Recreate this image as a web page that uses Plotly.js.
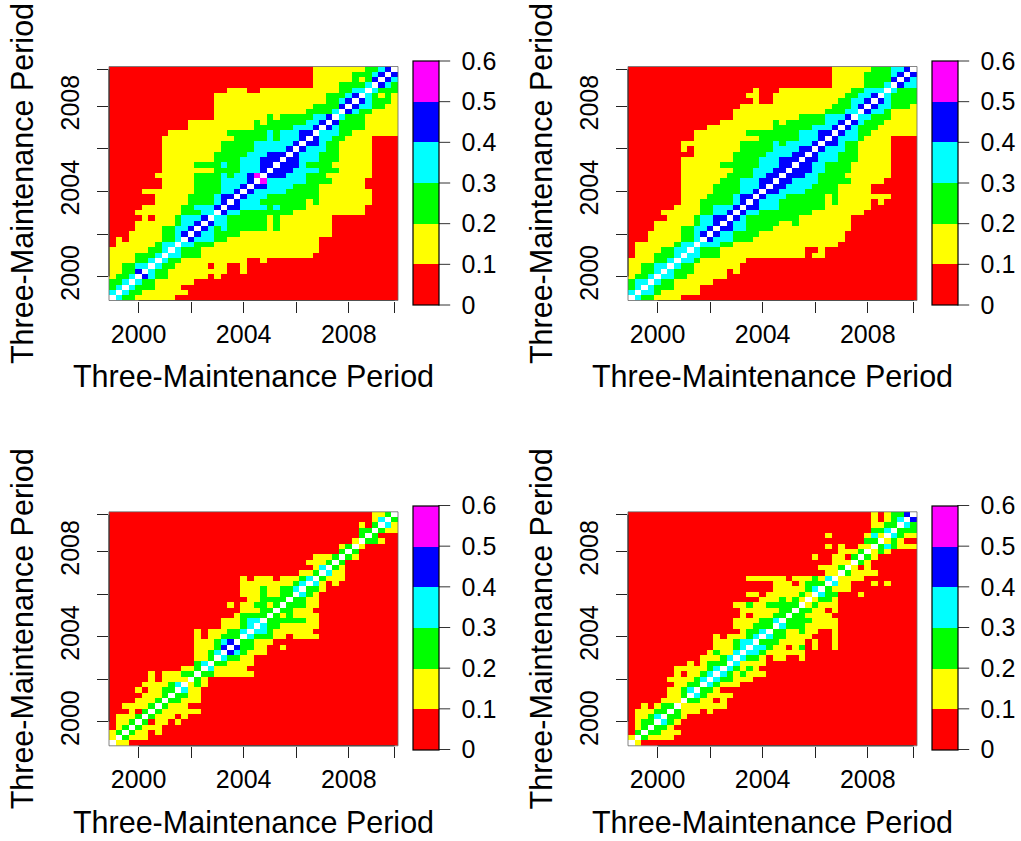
<!DOCTYPE html>
<html><head><meta charset="utf-8">
<script src="https://cdn.plot.ly/plotly-3.0.1.min.js"></script>
<style>html,body{margin:0;padding:0;background:#fff}#chart{width:1021px;height:841px}</style>
</head><body><div id="chart"></div>
<script>
// Each row (top to bottom) is "startColumn:level" runs. Levels 0-5 are the colour bins, 6 is the unplotted diagonal.
const panelA = [
"0:0 31:1 39:2 41:3 42:4 43:6","0:0 31:1 37:2 40:3 41:4 42:6 43:4","0:0 31:1 37:2 38:1 39:2 40:4 41:6 42:4 43:3","0:0 31:1 35:2 39:3 40:6 41:4 42:3 43:2",
"0:0 18:1 21:0 23:1 35:2 37:3 39:6 40:3 41:2","0:0 16:1 33:2 36:3 37:4 38:6 39:3 40:2 41:1 42:2 43:1","0:0 16:1 33:2 35:3 36:4 37:6 38:4 39:3 40:2 43:1","0:0 16:1 31:2 35:4 36:6 37:4 38:3 40:2 42:1",
"0:0 16:1 30:2 34:3 35:6 36:4 37:3 38:2 40:1","0:0 16:1 24:2 25:1 26:2 31:3 33:4 34:6 35:3 36:2 39:1","0:0 12:1 22:2 23:1 24:2 30:3 32:4 33:6 34:4 35:2 39:1","0:0 12:1 22:2 28:3 31:4 32:6 33:4 34:3 35:2 39:1",
"0:0 9:1 18:2 24:3 25:2 26:3 29:4 31:6 32:3 35:2 37:1","0:0 8:1 19:2 24:3 25:2 26:3 29:4 30:6 31:4 32:3 34:2 36:1 40:0","0:0 8:1 17:2 22:3 28:4 29:6 30:4 32:3 33:2 35:1 40:0","0:0 8:1 17:2 22:3 27:4 28:6 29:4 30:3 33:2 35:1 40:0",
"0:0 8:1 16:2 21:3 24:4 27:6 28:4 29:3 32:2 35:1 40:0","0:0 8:1 16:2 20:3 23:4 26:6 27:4 29:3 32:2 35:1 40:0","0:0 8:1 13:2 17:3 18:2 20:3 23:4 25:6 26:4 29:3 30:2 34:1 40:0","0:0 8:1 16:2 20:3 23:4 24:6 25:4 28:3 32:2 35:1 40:0",
"0:0 7:1 13:2 17:3 18:2 19:3 21:4 22:5 23:6 24:4 27:3 30:2 33:1 40:0","0:0 8:1 13:2 17:3 21:4 22:6 23:5 24:3 30:2 34:1 39:0","0:0 8:1 13:2 17:3 20:4 21:6 22:4 24:3 28:2 32:1 39:0","0:0 5:1 13:2 17:3 19:4 20:6 21:4 22:3 27:2 32:1 40:0",
"0:0 7:1 12:2 16:3 17:4 19:6 20:4 21:3 24:2 32:1 40:0","0:0 7:1 12:2 16:3 17:4 18:6 19:4 20:3 23:2 30:1 31:2 32:1 40:0","0:0 5:1 11:2 13:3 16:4 17:6 18:4 20:3 24:2 25:3 26:2 30:1 39:0","0:0 4:1 11:2 14:3 16:6 17:4 18:3 20:2 28:1 39:0",
"0:0 5:1 6:0 7:1 10:2 11:3 14:4 15:6 16:3 18:2 24:1 25:2 26:1 34:0","0:0 4:1 10:2 11:3 13:4 14:6 15:4 16:3 18:2 24:1 25:2 26:1 34:0","0:0 4:1 8:2 10:3 12:4 13:6 14:4 15:3 16:2 17:3 18:2 24:1 25:2 26:1 34:0","0:0 3:1 8:2 10:3 11:4 12:6 13:4 14:3 16:2 20:1 34:0",
"0:0 1:1 2:0 3:1 8:2 10:3 11:6 12:4 13:3 16:2 18:1 32:0","0:0 1:1 7:2 8:3 10:6 11:3 13:2 16:1 32:0","0:1 6:2 8:3 9:6 10:3 11:2 14:1 32:0","0:1 4:2 7:3 8:6 9:3 11:2 14:1 31:0",
"0:1 4:2 6:3 7:6 8:3 9:2 11:1 21:0 23:1 24:0","0:1 2:2 4:3 6:6 7:3 8:2 10:1 15:0 16:1 18:0 20:1 21:0","0:1 2:2 4:4 5:6 6:3 7:2 9:1 18:0 20:1 21:0","0:1 1:2 3:3 4:6 5:4 6:3 7:2 9:1 15:0 16:1 17:0",
"0:2 2:3 3:6 4:3 5:2 7:1 13:0","0:2 1:3 2:6 3:3 4:2 7:1 11:0","0:3 1:6 2:3 3:2 5:1 12:0","0:6 1:3 2:2 4:1 10:0"];
const panelB = [
"0:0 31:1 37:2 40:3 42:4 43:6","0:0 31:1 36:2 40:3 41:4 42:6 43:4","0:0 31:1 36:2 40:4 41:6 42:4 43:3","0:0 31:1 36:2 39:3 40:6 41:4 42:3",
"0:0 19:1 20:0 23:1 34:2 36:3 39:6 40:3 41:2","0:0 18:1 20:0 22:1 33:2 35:3 37:4 38:6 39:3 40:2","0:0 19:1 20:0 22:1 32:2 34:3 36:4 37:6 38:4 39:3 40:2","0:0 17:1 31:2 34:3 35:4 36:6 37:4 38:3 40:2 43:1",
"0:0 16:1 30:2 33:3 35:6 36:4 37:3 39:2 40:1","0:0 16:1 26:2 30:3 33:4 34:6 35:3 37:2 40:1","0:0 14:1 22:2 23:1 24:2 30:3 32:4 33:6 34:4 35:3 36:2 39:1","0:0 12:1 22:2 28:3 31:4 32:6 33:4 34:3 35:2 38:1",
"0:0 10:1 18:2 26:3 29:4 31:6 32:4 33:3 35:2 37:1","0:0 10:1 20:2 26:3 29:4 30:6 31:4 32:3 35:2 36:1 40:0","0:0 8:1 17:2 22:3 23:2 24:3 28:4 29:6 30:4 32:3 33:2 35:1 40:0","0:0 8:1 9:0 10:1 17:2 22:3 26:4 28:6 29:4 30:3 33:2 35:1 40:0",
"0:0 10:1 16:2 21:3 25:4 27:6 28:4 29:3 32:2 35:1 40:0","0:0 8:1 16:2 20:3 23:4 26:6 27:4 29:3 32:2 35:1 40:0","0:0 8:1 14:2 20:3 23:4 25:6 26:4 28:3 30:2 34:1 40:0","0:0 8:1 16:2 19:3 22:4 24:6 25:4 28:3 30:2 34:1 40:0",
"0:0 8:1 15:2 19:3 21:4 23:6 24:4 27:3 29:2 33:1 40:0","0:0 8:1 14:2 17:3 20:4 22:6 23:4 25:3 29:2 34:1 39:0","0:0 8:1 13:2 17:3 20:4 21:6 22:4 24:3 28:2 32:1 37:0","0:0 8:1 13:2 17:3 19:4 20:6 21:4 23:3 27:2 32:1 37:0",
"0:0 8:1 12:2 16:3 17:4 19:6 20:4 21:3 24:2 30:1 31:2 32:1 40:0","0:0 8:1 11:2 16:3 17:4 18:6 19:4 20:3 23:2 30:1 31:2 32:1 37:0 38:1 39:0","0:0 7:1 11:2 13:3 16:4 17:6 18:4 20:3 23:2 30:1 37:0","0:0 5:1 11:2 13:3 15:4 16:6 17:4 18:3 20:2 28:1 36:0",
"0:0 6:1 10:2 11:3 13:4 15:6 16:4 17:3 18:2 26:1 34:0","0:0 4:1 10:2 11:3 13:4 14:6 15:4 16:3 18:2 23:1 25:2 26:1 34:0","0:0 4:1 8:2 10:3 12:4 13:6 14:4 16:3 18:2 22:1 34:0","0:0 3:1 8:2 10:3 11:4 12:6 13:4 14:3 16:2 20:1 33:0",
"0:0 3:1 8:2 10:3 11:6 12:4 13:3 16:2 19:1 33:0","0:0 1:1 7:2 8:3 10:6 11:3 14:2 16:1 32:0","0:0 1:1 5:2 7:3 9:6 10:3 11:2 14:1 27:0 29:1 30:0","0:0 1:1 4:2 7:3 8:6 9:3 11:2 14:1 27:0 28:1 30:0",
"0:1 4:2 6:3 7:6 8:3 10:2 11:1 18:0","0:1 2:2 4:3 6:6 7:3 8:2 10:1 17:0","0:1 2:2 4:3 5:6 6:3 7:2 10:1 15:0 16:1 17:0","0:1 1:2 3:3 4:6 5:3 7:2 9:1 15:0",
"0:2 1:3 3:6 4:3 5:2 7:1 13:0","0:2 1:3 2:6 3:3 4:2 7:1 11:0","0:3 1:6 2:3 4:2 5:1 11:0","0:6 1:3 2:2 4:1 8:0"];
const panelC = [
"0:0 40:1 42:2 43:6","0:0 40:1 41:3 42:6 43:2","0:0 38:1 39:0 40:2 41:6 42:3 43:1","0:0 38:2 40:6 41:2 42:1",
"0:0 38:2 39:6 40:2 41:0","0:0 37:1 38:6 39:2 41:1 42:0","0:0 35:1 36:2 37:6 38:1 39:0","0:0 35:2 36:6 37:2 38:0",
"0:0 31:1 34:2 35:6 36:2 37:1 38:0","0:0 30:1 33:2 34:6 35:2 36:0","0:0 31:1 32:3 33:6 34:2 35:1 36:0","0:0 29:1 31:2 32:6 33:3 34:1 36:0",
"0:0 20:1 21:0 22:1 25:0 26:1 29:2 30:3 31:6 32:2 33:1 36:0","0:0 20:1 28:2 29:3 30:6 31:3 32:1 33:0 34:1 35:0","0:0 20:1 23:2 24:1 26:2 28:3 29:6 30:2 32:1 33:0","0:0 20:1 23:2 24:1 26:2 28:6 29:3 30:2 31:1 32:0",
"0:0 21:1 23:2 27:6 28:2 30:1 32:0","0:0 18:1 19:0 20:1 22:2 24:1 25:2 26:6 27:2 30:1 32:0","0:0 20:1 23:2 25:6 26:2 28:1 31:0","0:0 19:1 20:2 24:6 25:2 26:1 27:2 28:1 32:0",
"0:0 17:1 20:2 21:3 23:6 24:2 30:1 32:0","0:0 17:1 20:2 21:3 22:6 23:3 24:2 26:1 32:0","0:0 13:1 14:0 15:1 18:2 20:3 21:6 22:3 24:2 25:1 31:0","0:0 13:1 14:0 15:1 17:2 20:6 21:3 22:2 25:1 27:0 28:1 32:0",
"0:0 13:1 16:2 17:3 18:4 19:6 20:2 22:1 25:0","0:0 13:1 16:2 17:4 18:6 19:4 20:2 22:1 24:0 26:1 27:0","0:0 13:1 15:2 16:3 17:6 18:4 19:3 20:2 21:1 24:0","0:0 13:1 15:2 16:6 17:3 18:2 20:1 22:0",
"0:0 13:2 14:3 15:6 16:2 18:1 22:0","0:0 11:1 13:2 14:6 15:3 16:1 21:0","0:0 6:1 7:0 8:1 11:2 13:6 14:2 16:1 22:0","0:0 6:1 7:0 8:1 12:6 13:2 14:1 15:0",
"0:0 5:1 9:2 10:3 11:6 12:1 13:2 14:1 15:0","0:0 4:1 5:0 6:1 8:2 10:6 11:3 12:1 14:0","0:0 5:1 8:2 9:6 10:2 12:1 14:0","0:0 4:1 7:2 8:6 9:2 11:1 14:0",
"0:0 2:1 6:2 7:6 8:2 9:1 12:0","0:0 3:1 4:0 5:2 6:6 7:2 8:1 14:0","0:0 1:1 4:2 5:6 6:2 7:1 10:0 11:1 12:0","0:0 1:1 3:2 4:6 5:2 6:0 7:1 9:0 10:1 11:0",
"0:0 1:1 2:2 3:6 4:2 5:1 8:0","0:1 1:2 2:6 3:2 4:1 6:0 7:1 8:0","0:1 1:6 2:2 3:1 6:0","0:6 1:1 3:0"];
const panelD = [
"0:0 37:1 38:0 39:1 40:2 42:4 43:6","0:0 37:1 38:0 39:1 40:2 41:3 42:6 43:4","0:0 37:1 39:2 41:6 42:3 43:2","0:0 37:2 39:3 40:6 41:2",
"0:0 30:1 31:0 36:1 37:3 38:1 39:6 40:3 41:2 42:1","0:0 36:2 38:6 39:1 40:2 41:1 42:0","0:0 30:1 31:0 32:1 33:0 35:1 37:6 38:2 39:3 40:2 41:1","0:0 32:1 35:2 36:6 37:1 38:2 39:1 40:0",
"0:0 28:1 29:0 31:1 33:0 34:2 35:6 36:2 37:1 38:0","0:0 31:1 34:6 35:2 36:1 37:0","0:0 29:1 32:2 33:6 34:1 35:0 36:1 37:0","0:0 30:1 32:6 33:2 34:1 38:0",
"0:0 18:1 24:0 25:1 28:2 29:1 30:3 31:6 32:1 36:0","0:0 22:1 25:0 26:1 27:2 30:6 31:3 32:1 34:0 37:1 38:0 39:1 40:0","0:0 22:1 27:2 28:3 29:6 30:2 31:1 34:0","0:0 18:1 20:0 21:1 26:2 27:1 28:6 29:3 30:2 32:0 35:1 36:0",
"0:0 20:1 23:2 24:1 25:2 26:1 27:6 28:1 29:2 31:1 32:0","0:0 16:1 18:2 19:1 21:2 26:6 27:1 28:2 29:1 32:0","0:0 17:1 23:2 25:6 26:2 28:1 30:0 31:1 32:0","0:0 17:1 18:0 19:1 22:2 24:6 25:2 27:1 31:0",
"0:0 16:1 20:2 22:3 23:6 24:2 28:1 32:0","0:0 16:1 19:2 22:6 23:3 24:2 27:1 32:0","0:0 17:1 18:2 20:3 21:6 22:2 24:1 26:2 27:1 29:0 31:1 32:0","0:0 13:1 14:0 15:1 18:2 19:3 20:6 21:3 22:2 24:1 28:0 31:1 32:0",
"0:0 13:1 16:2 17:3 19:6 20:2 23:1 27:0 28:1 29:0 31:1 32:0","0:0 13:1 16:2 17:3 18:6 19:3 21:2 22:1 24:0 25:1 26:2 27:0 28:1 29:0 31:1 32:0","0:0 12:1 13:2 14:1 16:3 17:6 18:3 20:2 21:1 27:0","0:0 11:1 14:2 15:3 16:6 17:3 18:2 20:1 21:0 22:1 24:0 26:1 27:0",
"0:0 9:1 10:0 11:1 12:2 15:6 16:3 17:1 21:0","0:0 7:1 12:2 13:3 14:6 15:3 16:2 17:1 18:2 19:1 20:0","0:0 7:1 8:0 9:1 11:2 12:3 13:6 14:3 15:2 16:1 17:2 18:1 21:0","0:0 6:1 10:2 11:3 12:6 13:3 14:2 16:1 19:0",
"0:0 7:1 9:2 11:6 12:3 13:2 14:1 17:0","0:0 6:1 8:2 9:3 10:6 11:2 13:1 14:0","0:0 6:1 8:2 9:6 10:3 11:2 12:1 16:0","0:0 5:1 8:6 9:2 11:1 13:0 14:1 15:0",
"0:0 2:1 3:0 4:1 5:2 7:6 8:1 15:0","0:0 1:1 4:2 6:6 7:2 8:1 11:0 12:1 13:0","0:0 1:1 3:2 4:3 5:6 6:2 8:1 9:0","0:0 1:1 2:2 4:6 5:3 6:2 7:1 8:0",
"0:0 1:1 2:2 3:6 4:2 6:1 7:0","0:0 1:2 2:6 3:2 5:1 8:0","0:1 1:6 2:2 3:1 7:0","0:6 1:1 2:0"];

const periods = [1999,1999.25,1999.5,1999.75,2000,2000.25,2000.5,2000.75,2001,2001.25,2001.5,2001.75,2002,2002.25,2002.5,2002.75,2003,2003.25,2003.5,2003.75,2004,2004.25,2004.5,2004.75,2005,2005.25,2005.5,2005.75,2006,2006.25,2006.5,2006.75,2007,2007.25,2007.5,2007.75,2008,2008.25,2008.5,2008.75,2009,2009.25,2009.5,2009.75];
const binValues = [0.05,0.15,0.25,0.35,0.45,0.55,null];
const binColors = ['#ff0000','#ffff00','#00ff00','#00ffff','#0000ff','#ff00ff'];
const axisTicks = [2000,2002,2004,2006,2008,2009.75];
const axisLabels = ['2000','','2004','','2008',''];
const barTicks = [0,0.1,0.2,0.3,0.4,0.5,0.6];
const barLabels = ['0','0.1','0.2','0.3','0.4','0.5','0.6'];
const axisTitle = 'Three-Maintenance Period';

const W = 1021, H = 841, FONT = 'Liberation Sans, Arial, sans-serif';
const panels = [
  {rows: panelA, left: 109, top: 66.5, barTop: 61},
  {rows: panelB, left: 628, top: 66.5, barTop: 61},
  {rows: panelC, left: 109, top: 511.8, barTop: 505.5},
  {rows: panelD, left: 628, top: 511.8, barTop: 505.5}
];
const colorscale = [];
binColors.forEach((c, i) => { colorscale.push([i / 6, c]); colorscale.push([(i + 1) / 6, c]); });

function parseRow(str) {
  const out = new Array(periods.length).fill(null);
  str.split(' ').forEach(tok => {
    const [s, l] = tok.split(':').map(Number);
    for (let i = s; i < out.length; i++) out[i] = binValues[l];
  });
  return out;
}

const traces = [], layout = {
  width: W, height: H, margin: {l: 0, r: 0, t: 0, b: 0}, paper_bgcolor: '#fff', plot_bgcolor: '#fff',
  font: {family: FONT, color: '#000'}, showlegend: false, shapes: []
};
const barLen = 244, barThick = 25.5, barGap = 303.7;
panels.forEach((p, i) => {
  const n = i === 0 ? '' : String(i + 1);
  const z = p.rows.map(parseRow).reverse();
  traces.push({
    type: 'heatmap', x: periods, y: periods, z, zmin: 0, zmax: 0.6, zsmooth: false,
    colorscale, xaxis: 'x' + n, yaxis: 'y' + n, hoverongaps: false,
    colorbar: {
      x: (p.left + barGap) / W, xanchor: 'left', y: 1 - p.barTop / H, yanchor: 'top',
      lenmode: 'pixels', len: barLen, thicknessmode: 'pixels', thickness: barThick, xpad: 0, ypad: 0,
      outlinewidth: 1.2, outlinecolor: '#000', borderwidth: 0,
      tickmode: 'array', tickvals: barTicks, ticktext: barLabels, ticks: 'outside', ticklen: 17.5, tickwidth: 1, tickcolor: 'rgba(0,0,0,0)',
      tickfont: {family: FONT, size: 25, color: '#000'}
    }
  });
  const common = {
    tickmode: 'array', tickvals: axisTicks, ticktext: axisLabels, ticks: 'outside', ticklen: 11, tickwidth: 1, tickcolor: '#222',
    tickfont: {family: FONT, size: 25, color: '#000'}, showgrid: false, zeroline: false,
    range: [1998.875, 2009.875], fixedrange: true, showline: false, automargin: false
  };
  layout['xaxis' + n] = Object.assign({}, common, {
    anchor: 'y' + n, domain: [p.left / W, (p.left + 289) / W], tickangle: 0,
    title: {text: axisTitle, font: {family: FONT, size: 30.5, color: '#000'}, standoff: 19}
  });
  layout['yaxis' + n] = Object.assign({}, common, {
    anchor: 'x' + n, domain: [1 - (p.top + 234) / H, 1 - p.top / H], tickangle: -90, ticklabelstandoff: 8,
    title: {text: axisTitle, font: {family: FONT, size: 30.5, color: '#000'}, standoff: 13}
  });
  const xr = 'x' + n, yr = 'y' + n;
  layout.shapes.push({type: 'line', xref: xr, yref: yr + ' domain', x0: axisTicks[0], x1: axisTicks[5], y0: 0, y1: 0, line: {color: '#000', width: 1}});
  layout.shapes.push({type: 'line', xref: xr + ' domain', yref: yr, x0: 0, x1: 0, y0: axisTicks[0], y1: axisTicks[5], line: {color: '#000', width: 1}});
  layout.shapes.push({type: 'rect', xref: xr + ' domain', yref: yr + ' domain', x0: 0, x1: 1, y0: 0, y1: 1, line: {color: '#666', width: 0.8}, fillcolor: 'rgba(0,0,0,0)'});
  barTicks.forEach(v => {
    const yPx = p.barTop + (1 - v / barTicks[barTicks.length - 1]) * barLen;
    const xPx = p.left + barGap + barThick;
    layout.shapes.push({type: 'line', xref: 'paper', yref: 'paper', x0: xPx / W, x1: (xPx + 12) / W, y0: 1 - yPx / H, y1: 1 - yPx / H, line: {color: '#333', width: 1}});
  });
});
Plotly.newPlot('chart', traces, layout, {staticPlot: true, displayModeBar: false});
</script></body></html>
